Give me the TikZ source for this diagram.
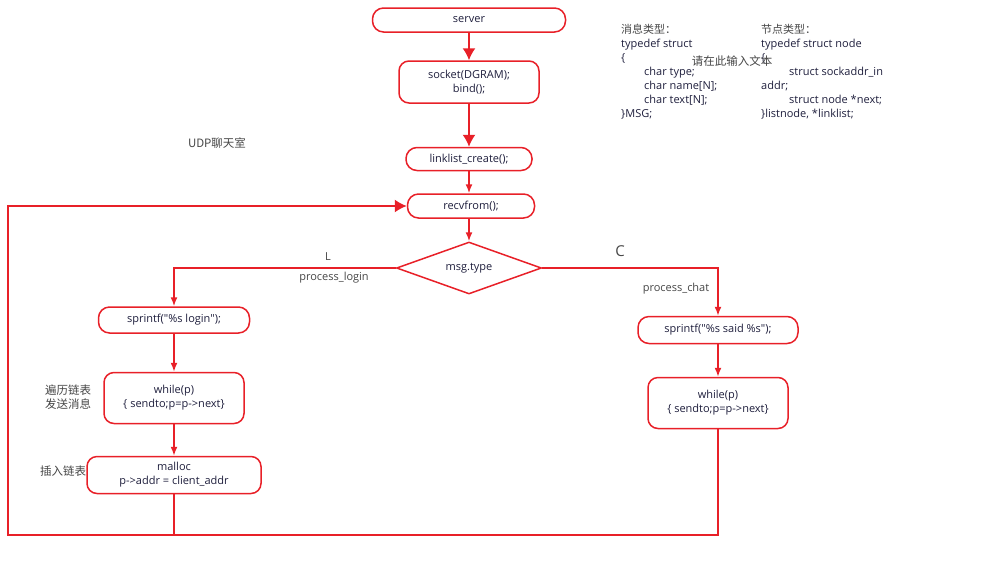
\documentclass[tikz,border=0pt]{standalone}
\usepackage{fontspec}
\setmainfont{Open Sans}[Ligatures=TeXOff]
\newfontfamily\cjk{Noto Sans CJK SC}
\usepackage{tikz}
\usetikzlibrary{arrows.meta, shapes.geometric, positioning}
\definecolor{flowred}{RGB}{232,32,40}
\definecolor{flowtext}{RGB}{30,30,60}
\definecolor{notegray}{RGB}{70,70,70}

\begin{document}
\begin{tikzpicture}[x=1pt, y=-1pt,
    big/.style={-{Latex[length=12pt,width=13pt]}},
    small/.style={-{Latex[length=9pt,width=7pt]}},
    box/.style={draw=flowred, line width=1.5pt, rounded corners=10pt, text=flowtext,
        align=center, inner sep=0pt, font=\fontsize{11}{14}\selectfont},
    pill/.style={box, rounded corners=11pt},
    decide/.style={diamond, draw=flowred, line width=1.5pt, aspect=2.8, minimum width=145pt,
        minimum height=52pt, inner sep=0pt, text=flowtext, font=\fontsize{11}{14}\selectfont},
    link/.style={draw=flowred, line width=1.5pt},
    note/.style={text=notegray, font=\fontsize{11}{14}\selectfont},
    cnote/.style={text=notegray, align=center, font=\cjk\fontsize{11.5}{14}\selectfont}]
    \useasboundingbox (0,0) rectangle (981,571);

    % Hauptstrang
    \node[pill, minimum width=193pt, minimum height=24pt] (server) at (469,20) {server};
    \node[box, minimum width=140pt, minimum height=42pt] (sock) at (469,82) {socket(DGRAM);\\bind();};
    \node[pill, minimum width=126pt, minimum height=23pt] (create) at (469,159) {linklist\_create();};
    \node[pill, minimum width=127pt, minimum height=24pt] (recv) at (471,206) {recvfrom();};
    \node[decide] (type) at (469,268) {msg.type};

    % login
    \node[pill, minimum width=151pt, minimum height=26pt] (login) at (174,320) {sprintf("\%s login");};
    \node[box, minimum width=140pt, minimum height=51pt] (sendL) at (174,398) {while(p)\\\{ sendto;p=p->next\}};
    \node[box, minimum width=174pt, minimum height=37pt] (malloc) at (174,475) {malloc\\p->addr = client\_addr};

    % chat
    \node[pill, minimum width=160pt, minimum height=27pt] (said) at (718,330) {sprintf("\%s said \%s");};
    \node[box, minimum width=140pt, minimum height=51pt] (sendR) at (718,403) {while(p)\\\{ sendto;p=p->next\}};

    % Pfeile
    \draw[link, big] (server) -- (sock);
    \draw[link, big] (sock) -- (create);
    \draw[link, small] (create) -- (create |- recv.north);
    \draw[link, small] (recv.south -| type) -- (type);
    \draw[link, small] (type.west) -| (login.north);
    \draw[link, small] (type.east) -| (said.north);
    \draw[link, small] (login) -- (sendL);
    \draw[link, small] (sendL) -- (malloc);
    \draw[link, small] (said) -- (sendR);

    % Rueckweg
    \coordinate (lowleft) at (8,535);
    \coordinate (lowright) at (sendR.south |- lowleft);
    \draw[link] (malloc.south) -- (malloc.south |- lowleft);
    \draw[link, big] (sendR.south) -- (lowright) -- (lowleft) |- (recv.west);

    % Beschriftung
    \node[note] (markL) at (328,257) {L};
    \node[note] (loginlbl) at (334,278) {process\_login};
    \node[note, font=\fontsize{15}{17}\selectfont] (markC) at (620,251) {C};
    \node[note] (chatlbl) at (676,289) {process\_chat};
    \node[cnote] (title) at (217,143) {UDP聊天室};
    \node[cnote] (walk) at (68,397) {遍历链表\\发送消息};
    \node[cnote] (insert) at (63,471) {插入链表};

    % Strukturen
    \node[anchor=north west, inner sep=0pt, align=left, text=flowtext,
        font=\fontsize{11}{14}\selectfont] (msgdef) at (621,24)
        {{\cjk\color{notegray}消息类型：}\\typedef struct\\\{\\\hspace*{23pt}char type;\\
         \hspace*{23pt}char name[N];\\\hspace*{23pt}char text[N];\\\}MSG;};
    \node[anchor=north west, inner sep=0pt, align=left, text=flowtext,
        font=\fontsize{11}{14}\selectfont] (nodedef) at (761,24)
        {{\cjk\color{notegray}节点类型：}\\typedef struct node\\\{\\\hspace*{28pt}struct sockaddr\_in\\
         addr;\\\hspace*{28pt}struct node *next;\\\}listnode, *linklist;};
    \node[cnote] (hint) at (732,61) {请在此输入文本};
\end{tikzpicture}
\end{document}
